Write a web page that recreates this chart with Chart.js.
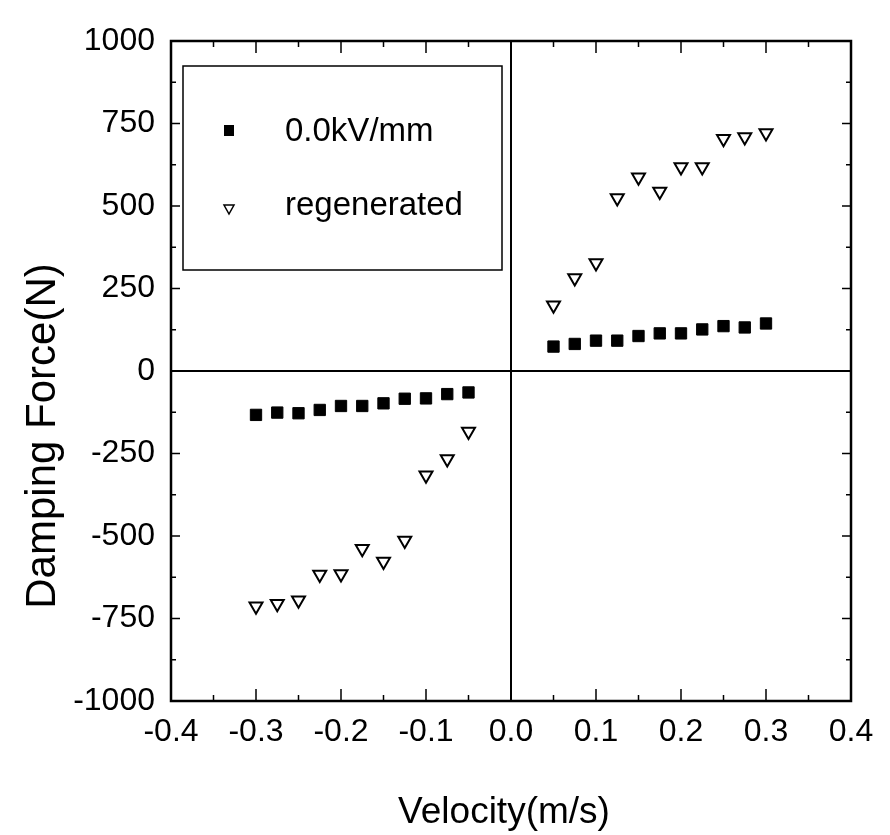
<!DOCTYPE html>
<html>
<head>
<meta charset="utf-8">
<script src="https://cdn.jsdelivr.net/npm/chart.js@4/dist/chart.umd.min.js"></script>
<style>
  body { margin: 0; background: #fff; }
  #wrap { width: 890px; height: 835px; }
</style>
</head>
<body>
<div id="wrap"><canvas id="chart" width="890" height="835"></canvas></div>
<script>
// Dados
const velocities = [-0.3, -0.275, -0.25, -0.225, -0.2, -0.175, -0.15, -0.125, -0.1, -0.075, -0.05,
                    0.05, 0.075, 0.1, 0.125, 0.15, 0.175, 0.2, 0.225, 0.25, 0.275, 0.3];
const force0kV = [-133, -126, -128, -118, -106, -106, -98, -84, -83, -70, -65,
                  74, 82, 92, 92, 106, 114, 114, 126, 136, 132, 144];
const forceRegen = [-713, -705, -695, -617, -615, -539, -577, -514, -316, -267, -183,
                    199, 282, 327, 524, 587, 544, 618, 618, 704, 709, 721];
const seriesNames = ['0.0kV/mm', 'regenerated'];
const xTitle = 'Velocity(m/s)';
const yTitle = 'Damping Force(N)';

const FONT = '"Liberation Sans", Arial, sans-serif';

function toPoints(ys) {
  return velocities.map((v, i) => ({ x: v, y: ys[i] }));
}

// Moldura, ticks internos, linhas do zero, títulos e legenda
const framePlugin = {
  id: 'frame',
  afterDraw(chart) {
    const ctx = chart.ctx;
    const a = chart.chartArea;
    const xs = chart.scales.x, ys = chart.scales.y;
    ctx.save();
    ctx.strokeStyle = '#000';
    ctx.lineWidth = 2.5;
    ctx.strokeRect(a.left, a.top, a.right - a.left, a.bottom - a.top);

    // linhas do zero
    const x0 = xs.getPixelForValue(0), y0 = ys.getPixelForValue(0);
    ctx.lineWidth = 2;
    ctx.beginPath();
    ctx.moveTo(x0, a.top); ctx.lineTo(x0, a.bottom);
    ctx.moveTo(a.left, y0); ctx.lineTo(a.right, y0);
    ctx.stroke();

    // ticks
    ctx.lineWidth = 1.5;
    ctx.beginPath();
    for (let v = -1000; v <= 1000; v += 125) {
      const p = ys.getPixelForValue(v);
      const len = v % 250 === 0 ? 9 : 5;
      ctx.moveTo(a.left, p); ctx.lineTo(a.left + len, p);
      ctx.moveTo(a.right, p); ctx.lineTo(a.right - len, p);
    }
    for (let i = -8; i <= 8; i++) {
      const p = xs.getPixelForValue(i * 0.05);
      const len = i % 2 === 0 ? 12 : 6;
      ctx.moveTo(p, a.bottom); ctx.lineTo(p, a.bottom - len);
      ctx.moveTo(p, a.top); ctx.lineTo(p, a.top + len);
    }
    ctx.stroke();

    // títulos dos eixos
    ctx.fillStyle = '#000';
    ctx.font = '37px ' + FONT;
    ctx.textAlign = 'center';
    ctx.textBaseline = 'alphabetic';
    ctx.fillText(xTitle, 504, 823);
    ctx.save();
    ctx.translate(55, 436);
    ctx.rotate(-Math.PI / 2);
    ctx.font = '42px ' + FONT;
    ctx.fillText(yTitle, 0, 0);
    ctx.restore();

    // legenda
    ctx.lineWidth = 1.5;
    ctx.strokeRect(183, 66, 319, 204);
    ctx.fillRect(224, 125, 10, 11);
    ctx.beginPath();
    ctx.moveTo(224, 205); ctx.lineTo(234, 205); ctx.lineTo(229, 214); ctx.closePath();
    ctx.stroke();
    ctx.font = '33px ' + FONT;
    ctx.textAlign = 'left';
    ctx.fillText(seriesNames[0], 285, 141);
    ctx.fillText(seriesNames[1], 285, 215);
    ctx.restore();
  }
};

window.addEventListener('DOMContentLoaded', () => {
  const ctx = document.getElementById('chart').getContext('2d');
  new Chart(ctx, {
    type: 'scatter',
    data: {
      datasets: [
        {
          label: seriesNames[0],
          data: toPoints(force0kV),
          pointStyle: 'rect',
          pointRadius: 8,
          backgroundColor: '#000',
          borderColor: '#000',
          borderWidth: 1
        },
        {
          label: seriesNames[1],
          data: toPoints(forceRegen),
          pointStyle: 'triangle',
          rotation: 180,
          pointRadius: 7.5,
          backgroundColor: '#fff',
          borderColor: '#000',
          borderWidth: 2
        }
      ]
    },
    options: {
      responsive: false,
      animation: false,
      layout: { padding: { left: 0, right: 39, top: 41, bottom: 0 } },
      plugins: { legend: { display: false }, tooltip: { enabled: false } },
      scales: {
        x: {
          type: 'linear',
          min: -0.4, max: 0.4,
          grid: { display: false, drawTicks: false },
          border: { display: false },
          ticks: {
            stepSize: 0.1,
            padding: 12,
            color: '#000',
            font: { family: FONT, size: 32 },
            callback: v => (Math.abs(v) < 1e-9 ? 0 : v).toFixed(1)
          },
          afterFit: s => { s.height = 134; }
        },
        y: {
          min: -1000, max: 1000,
          grid: { display: false, drawTicks: false },
          border: { display: false },
          ticks: {
            stepSize: 250,
            padding: 16,
            color: '#000',
            font: { family: FONT, size: 32 },
            callback: v => String(v)
          },
          afterFit: s => { s.width = 171; }
        }
      }
    },
    plugins: [framePlugin]
  });
});
</script>
</body>
</html>
